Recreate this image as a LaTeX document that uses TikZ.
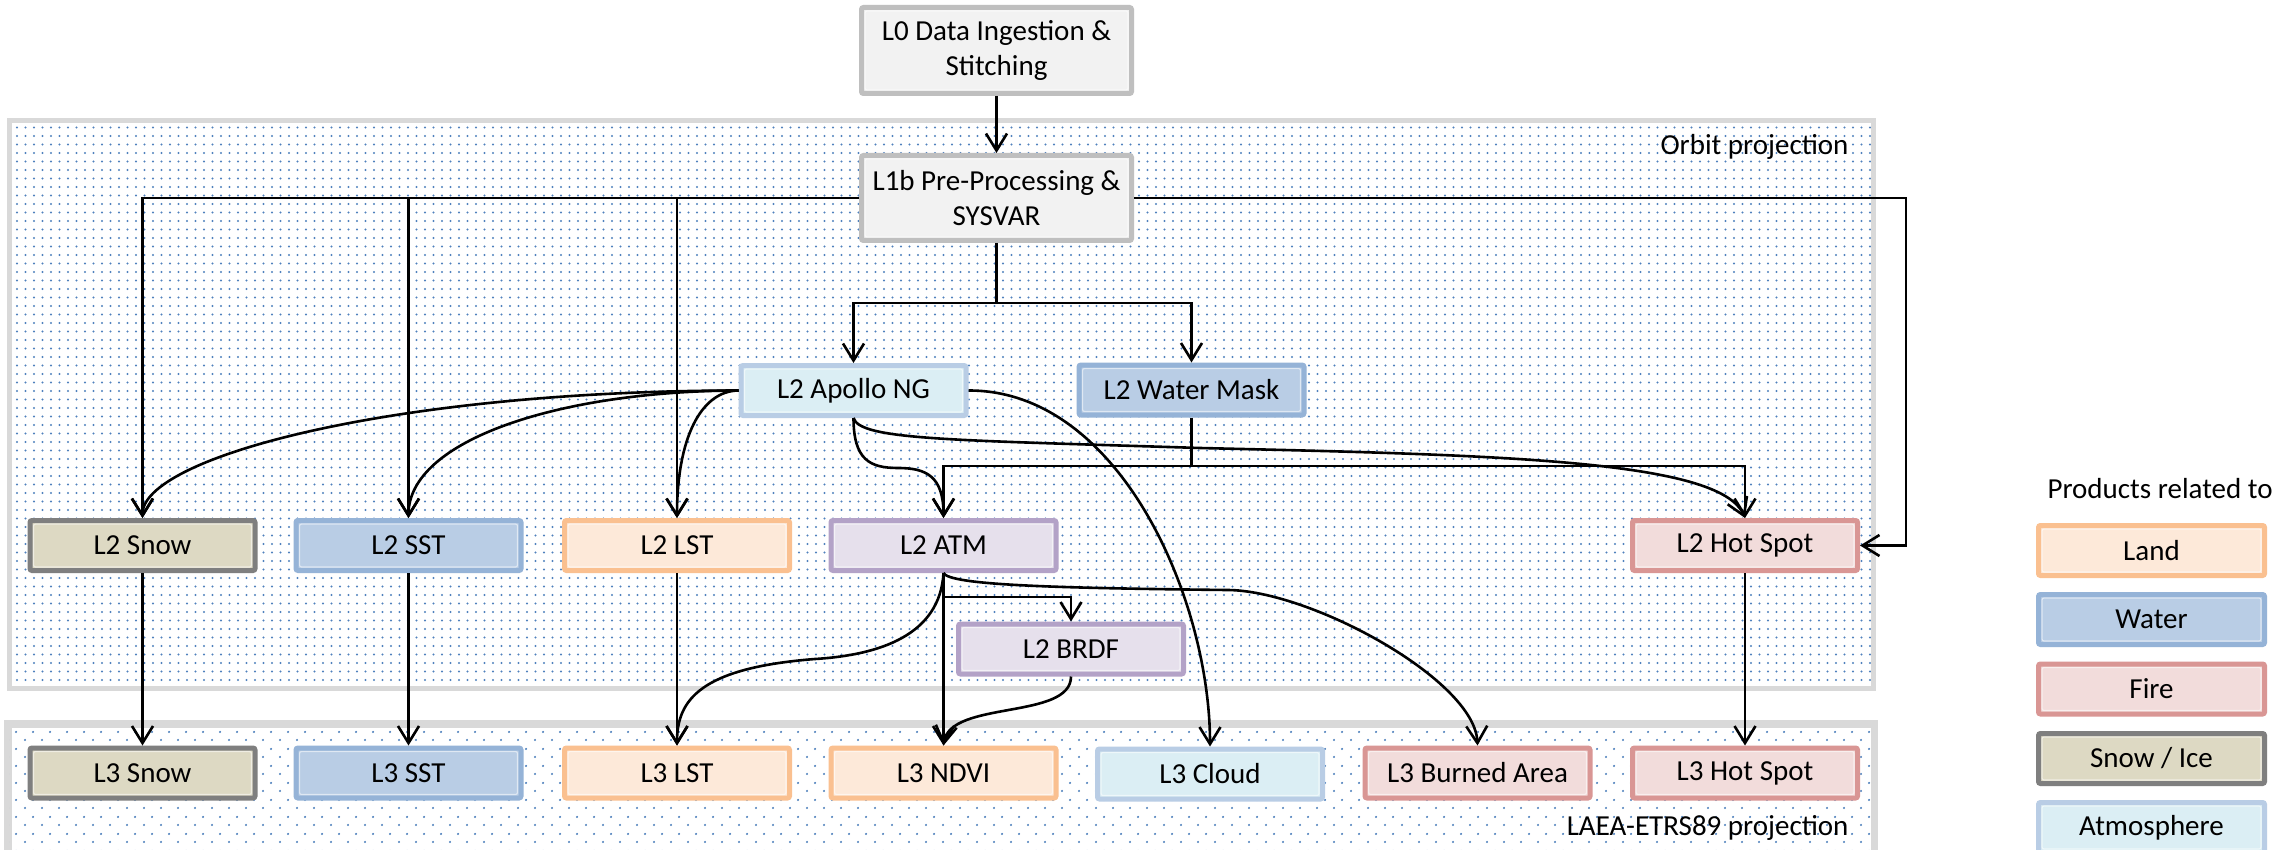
\documentclass[tikz,border=0pt]{standalone}
\usepackage{fontspec}
\setmainfont{Carlito}
\usetikzlibrary{arrows.meta,patterns.meta,calc}
\definecolor{dotblue}{HTML}{4F81BD}
\definecolor{regionline}{HTML}{D9D9D9}
\definecolor{landF}{HTML}{FDE9D9}\definecolor{landD}{HTML}{FAC090}
\definecolor{waterF}{HTML}{B9CDE5}\definecolor{waterD}{HTML}{95B3D7}
\definecolor{fireF}{HTML}{F2DCDB}\definecolor{fireD}{HTML}{D99694}
\definecolor{snowF}{HTML}{DDD9C3}\definecolor{snowD}{HTML}{7F7F7F}
\definecolor{atmoF}{HTML}{DBEEF4}\definecolor{atmoD}{HTML}{B9CDE5}
\definecolor{purpF}{HTML}{E6E0EC}\definecolor{purpD}{HTML}{B3A2C7}
\definecolor{greyF}{HTML}{F2F2F2}\definecolor{greyD}{HTML}{BFBFBF}
\begin{document}
\begin{tikzpicture}[x=1pt,y=-1pt,
  txt/.style={font=\fontsize{29}{35}\selectfont},
  box/.style={txt, draw, line width=5pt, rounded corners=2pt, minimum width=225pt,
    minimum height=50pt, inner sep=0pt, align=center,
    path picture={\draw[white, opacity=0.55, line width=1.2pt]
      ([shift={(3.5pt,-3.5pt)}]path picture bounding box.north west) rectangle
      ([shift={(-3.5pt,3.5pt)}]path picture bounding box.south east);}},
  land/.style={box, fill=landF, draw=landD},
  water/.style={box, fill=waterF, draw=waterD},
  fire/.style={box, fill=fireF, draw=fireD},
  snowbox/.style={box, fill=snowF, draw=snowD},
  atmo/.style={box, fill=atmoF, draw=atmoD},
  purp/.style={box, fill=purpF, draw=purpD},
  greybox/.style={box, fill=greyF, draw=greyD},
  region/.style={draw=regionline, line width=5pt, inner sep=0pt},
  ln/.style={line width=2.6pt},
  arr/.style={ln, -{Straight Barb[length=17pt,width=21pt,line width=2.6pt]}}
]
\path[use as bounding box] (0,0) rectangle (2273,850);
\clip (0,0) rectangle (2273,850);
\fill[white] (0,0) rectangle (2273,850);

% regions
\node[region, minimum width=1864pt, minimum height=567pt, pattern={Dots[distance=8.5pt,radius=1.1pt]}, pattern color=dotblue] (orbit) at (941,404.5) {};
\node[region, minimum width=1864pt, minimum height=150pt, fill=white] (laea) at (941,800) {};
\path[pattern={Dots[distance=17pt,radius=1.2pt]}, pattern color=dotblue] (laea.north west) rectangle (laea.south east);
\path[pattern={Dots[distance=17pt,radius=1.2pt,xshift=8.5pt,yshift=8.5pt]}, pattern color=dotblue] (laea.north west) rectangle (laea.south east);
\draw[region] (laea.north west) rectangle (laea.south east);

\node[txt, anchor=base east] (orbitlbl) at (1852,155) {Orbit projection};
\node[txt, anchor=base east] (laealbl) at (1852,835) {LAEA-ETRS89 projection};

% top boxes
\node[greybox, minimum width=270pt, minimum height=86pt] (l0) at (996.5,50.5) {L0 Data Ingestion \&\\Stitching};
\node[greybox, minimum width=270pt, minimum height=85pt] (l1b) at (996.5,198) {L1b Pre-Processing \&\\SYSVAR};

\node[atmo] (apollo) at (853.5,390.5) {L2 Apollo NG};
\node[water] (wmask) at (1191.5,390) {L2 Water Mask};

% L2 row
\node[snowbox] (snow2) at (142.5,545.5) {L2 Snow};
\node[water] (sst2) at (408.5,545.5) {L2 SST};
\node[land] (lst2) at (677,545.5) {L2 LST};
\node[purp] (atm2) at (943.5,545.5) {L2 ATM};
\node[fire] (hot2) at (1745,545.5) {L2 Hot Spot};
\node[purp] (brdf) at (1071,649) {L2 BRDF};

% L3 row
\node[snowbox] (snow3) at (142.5,773) {L3 Snow};
\node[water] (sst3) at (408.5,773) {L3 SST};
\node[land] (lst3) at (677,773) {L3 LST};
\node[land] (ndvi3) at (943.5,773) {L3 NDVI};
\node[atmo] (cloud3) at (1210,774) {L3 Cloud};
\node[fire] (burn3) at (1477.5,773) {L3 Burned Area};
\node[fire] (hot3) at (1745,773) {L3 Hot Spot};

% legend
\node[txt, anchor=base west] (legtitle) at (2044,498) {Products related to};
\node[land, minimum width=226pt] (legland) at (2151.5,550.5) {Land};
\node[water, minimum width=226pt] (legwater) at (2151.5,619.5) {Water};
\node[fire, minimum width=226pt] (legfire) at (2151.5,689) {Fire};
\node[snowbox, minimum width=226pt] (legsnow) at (2151.5,758.5) {Snow / Ice};
\node[atmo, minimum width=226pt] (legatmo) at (2151.5,827.5) {Atmosphere};

% connectors
\coordinate (split1) at (996.5,303);
\coordinate (split2) at (1191.5,466);
\coordinate (rbend) at (1906,545.5);

\draw[arr] (l0.south) -- (l1b.north);
\draw[arr] (l1b.west) -| (snow2.north);
\draw[arr] (l1b.west) -| (sst2.north);
\draw[arr] (l1b.west) -| (lst2.north);
\draw[arr] (l1b.east) -| (rbend) -- (hot2.east);
\draw[ln] (l1b.south) -- (split1);
\draw[arr] (split1) -| (apollo.north);
\draw[arr] (split1) -| (wmask.north);
\draw[ln] (wmask.south) -- (split2);
\draw[arr] (split2) -| (atm2.north);
\draw[arr] (split2) -| (hot2.north);

\draw[arr] (apollo.west) .. controls (388,391) and (142,458) .. (snow2.north);
\draw[arr] (apollo.west) .. controls (560,391) and (408.5,440) .. (sst2.north);
\draw[arr] (apollo.west) .. controls (700,391) and (677,440) .. (lst2.north);
\draw[arr] (apollo.south) .. controls (853.5,460) and (870,468) .. (898,468)
   .. controls (926,468) and (943.5,476) .. (atm2.north);
\draw[arr] (apollo.south) .. controls (860,440) and (950,440) .. (1200,448)
   .. controls (1500,455) and (1720,460) .. (hot2.north);
\draw[arr] (apollo.east) .. controls (1120,390) and (1210,600) .. (cloud3.north);

\draw[arr] (atm2.south) -- ++(0,24) -| (brdf.north);
\draw[arr] (atm2.south) -- (ndvi3.north);
\draw[arr] (atm2.south) .. controls (940,635) and (880,655) .. (815,659)
   .. controls (700,668) and (677,700) .. (lst3.north);
\draw[arr] (atm2.south) .. controls (950,585) and (1050,588) .. (1227,590)
   .. controls (1310,590) and (1475,680) .. (burn3.north);
\draw[arr] (brdf.south) .. controls (1071,720) and (950,700) .. (ndvi3.north);

\draw[arr] (snow2.south) -- (snow3.north);
\draw[arr] (sst2.south) -- (sst3.north);
\draw[arr] (lst2.south) -- (lst3.north);
\draw[arr] (hot2.south) -- (hot3.north);
\end{tikzpicture}
\end{document}
